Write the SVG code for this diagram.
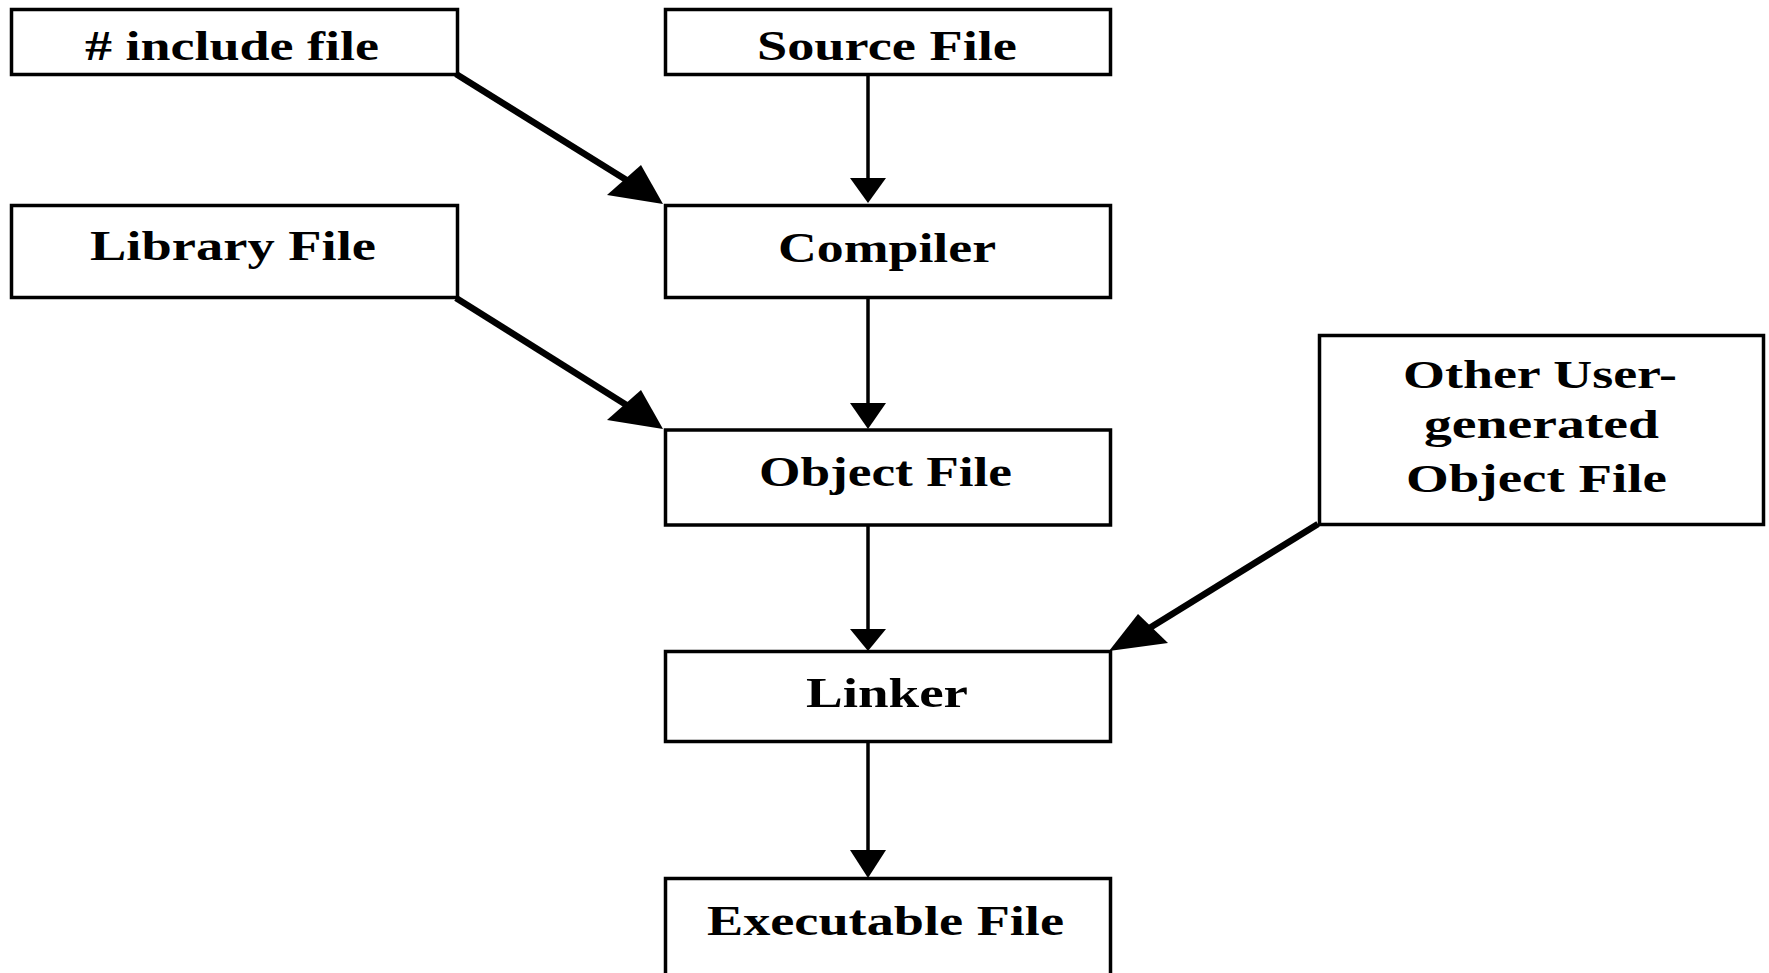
<svg xmlns="http://www.w3.org/2000/svg" width="1769" height="973" viewBox="0 0 1769 973">
<style>
.box{fill:#fff;stroke:#000;stroke-width:3.5}
.lbl{font-family:"Liberation Serif","Times New Roman",serif;font-weight:bold;font-size:42px;fill:#000}
.sm{font-size:40px}
.ln{stroke:#000;stroke-width:3.5;fill:none}
.dl{stroke:#000;stroke-width:6.5;fill:none}
.ah{fill:#000;stroke:none}
</style>
<rect x="0" y="0" width="1769" height="973" fill="#fff"/>
<g id="connectors">
<line class="ln" x1="868" y1="75" x2="868" y2="190"/>
<polygon class="ah" points="850,178 886,178 868,203"/>
<line class="ln" x1="868" y1="298" x2="868" y2="415"/>
<polygon class="ah" points="850,403 886,403 868,429"/>
<line class="ln" x1="868" y1="525" x2="868" y2="640"/>
<polygon class="ah" points="850,629 886,629 868,651"/>
<line class="ln" x1="868" y1="742" x2="868" y2="862"/>
<polygon class="ah" points="850,850 886,850 868,878"/>
<line class="dl" x1="456" y1="74" x2="628" y2="181"/>
<polygon class="ah" points="663,204 641,165 607,195"/>
<line class="dl" x1="456" y1="298" x2="628" y2="406"/>
<polygon class="ah" points="663,429 641,390 607,420"/>
<line class="dl" x1="1318" y1="524" x2="1148" y2="629"/>
<polygon class="ah" points="1109,651 1138,614 1168,643"/>
</g>
<g id="include">
<rect class="box" x="11.5" y="9.5" width="446" height="65"/>
<text class="lbl" x="85" y="60" textLength="294" lengthAdjust="spacingAndGlyphs"># include file</text>
</g>
<g id="source">
<rect class="box" x="665.5" y="9.5" width="445" height="65"/>
<text class="lbl" x="757" y="59.5" textLength="260" lengthAdjust="spacingAndGlyphs">Source File</text>
</g>
<g id="library">
<rect class="box" x="11.5" y="205.5" width="446" height="92"/>
<text class="lbl" x="90" y="260" textLength="286" lengthAdjust="spacingAndGlyphs">Library File</text>
</g>
<g id="compiler">
<rect class="box" x="665.5" y="205.5" width="445" height="92"/>
<text class="lbl" x="778" y="261.5" textLength="218" lengthAdjust="spacingAndGlyphs">Compiler</text>
</g>
<g id="object">
<rect class="box" x="665.5" y="430" width="445" height="95"/>
<text class="lbl" x="759" y="486" textLength="253" lengthAdjust="spacingAndGlyphs">Object File</text>
</g>
<g id="other">
<rect class="box" x="1319.5" y="335.5" width="444" height="189"/>
<text class="lbl sm" x="1403" y="388" textLength="274" lengthAdjust="spacingAndGlyphs">Other User-</text>
<text class="lbl sm" x="1424" y="438" textLength="235" lengthAdjust="spacingAndGlyphs">generated</text>
<text class="lbl sm" x="1406" y="492" textLength="261" lengthAdjust="spacingAndGlyphs">Object File</text>
</g>
<g id="linker">
<rect class="box" x="665.5" y="651.5" width="445" height="90"/>
<text class="lbl" x="806" y="707" textLength="162" lengthAdjust="spacingAndGlyphs">Linker</text>
</g>
<g id="executable">
<rect class="box" x="665.5" y="878.5" width="445" height="110"/>
<text class="lbl" x="707" y="935" textLength="357" lengthAdjust="spacingAndGlyphs">Executable File</text>
</g>
</svg>
